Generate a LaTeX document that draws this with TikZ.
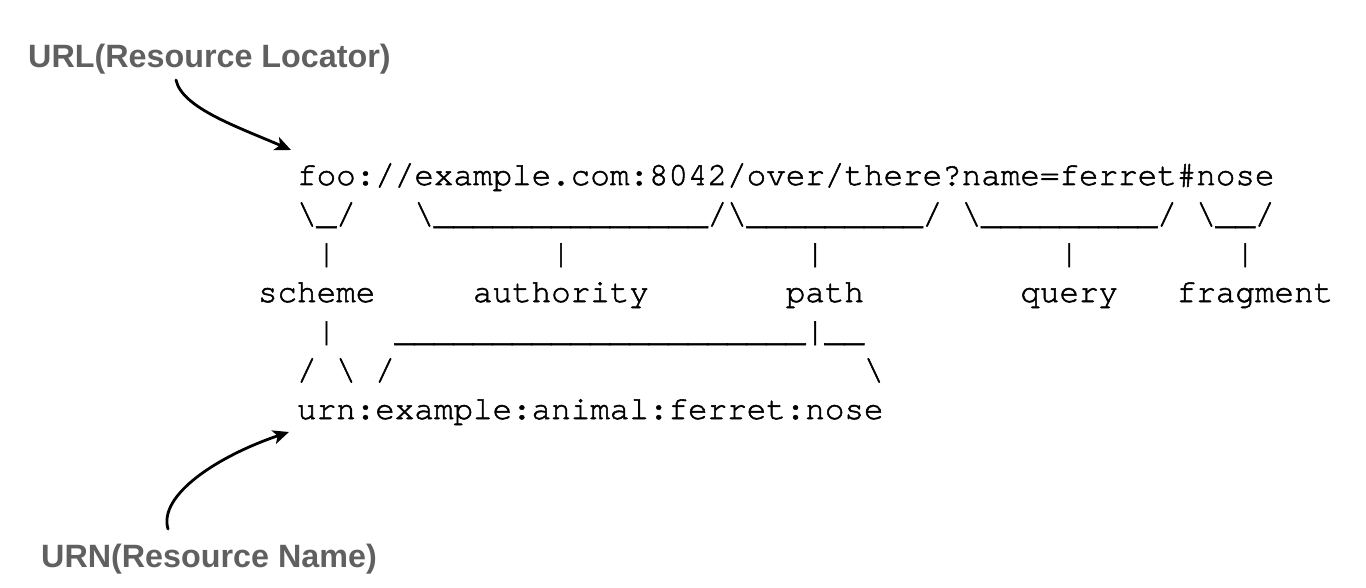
\documentclass[tikz,border=0pt]{standalone}
\usepackage{fontspec}
\setmonofont{TeX Gyre Cursor}[FakeBold=1.6]
\newfontfamily\labelfont{Liberation Sans}
\usetikzlibrary{arrows.meta}
\definecolor{labelgray}{RGB}{96,96,96}
\tikzset{
  asciirow/.style={font=\ttfamily\fontsize{32.58}{39}\selectfont, anchor=base west, inner sep=0pt, outer sep=0pt},
  bigLabel/.style={font=\labelfont\bfseries\fontsize{32.3}{38}\selectfont, text=labelgray, anchor=base west, inner sep=0pt},
  handArrow/.style={line width=2.8pt, line cap=round, -{Stealth[length=16pt,width=14pt,inset=4pt]}}
}
\newcommand{\bs}{\textbackslash}
\begin{document}
\begin{tikzpicture}[x=1pt,y=-1pt]
\useasboundingbox (0,0) rectangle (1366,588);
% ASCII art rows (column 0 at x=258, row pitch 39)
\node[asciirow] (row0) at (258,185) {~~foo://example.com:8042/over/there?name=ferret\#nose};
\node[asciirow] (row1) at (258,224) {~~\bs\_/~~~\bs\_\_\_\_\_\_\_\_\_\_\_\_\_\_/\bs\_\_\_\_\_\_\_\_\_/~\bs\_\_\_\_\_\_\_\_\_/~\bs\_\_/};
\node[asciirow] (row2) at (258,263) {~~~|~~~~~~~~~~~|~~~~~~~~~~~~|~~~~~~~~~~~~|~~~~~~~~|};
\node[asciirow] (row3) at (258,302) {scheme~~~~~authority~~~~~~~path~~~~~~~~query~~~fragment};
\node[asciirow] (row4) at (258,341) {~~~|~~~\_\_\_\_\_\_\_\_\_\_\_\_\_\_\_\_\_\_\_\_\_|\_\_};
\node[asciirow] (row5) at (258,380) {~~/~\bs~/~~~~~~~~~~~~~~~~~~~~~~~~\bs};
\node[asciirow] (row6) at (258,419) {~~urn:example:animal:ferret:nose};
% labels
\node[bigLabel] (urlLabel) at (28,68) {URL(Resource Locator)};
\node[bigLabel] (urnLabel) at (41,567) {URN(Resource Name)};
% arrows
\coordinate (urlStart) at (176,80);
\coordinate (urlTip) at (291,150);
\coordinate (urnStart) at (168,529);
\coordinate (urnTip) at (289,432);
\draw[handArrow] (urlStart) .. controls (182,108) and (238,127) .. (urlTip);
\draw[handArrow] (urnStart) .. controls (158,495) and (218,456) .. (urnTip);
\end{tikzpicture}
\end{document}
